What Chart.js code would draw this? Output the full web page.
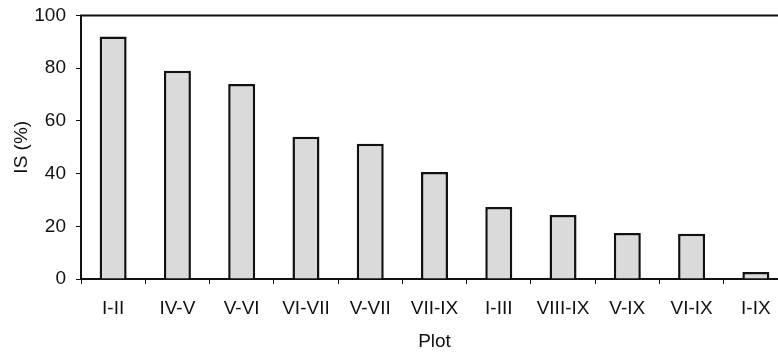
<!DOCTYPE html>
<html>
<head>
<meta charset="utf-8">
<script src="https://cdn.jsdelivr.net/npm/chart.js@4/dist/chart.umd.min.js"></script>
<style>
  html, body { margin: 0; padding: 0; background: #fff; overflow: hidden; }
  #wrap { width: 778px; height: 354px; overflow: hidden; }
  canvas { display: block; }
</style>
</head>
<body>
<div id="wrap"><canvas id="c" width="790" height="354"></canvas></div>
<script>
// Index of similarity between plot pairs
const plots = ['I-II', 'IV-V', 'V-VI', 'VI-VII', 'V-VII', 'VII-IX', 'I-III', 'VIII-IX', 'V-IX', 'VI-IX', 'I-IX'];
const isPercent = [92, 79, 74, 54, 51.3, 40.6, 27.3, 24.3, 17.5, 17.2, 2.7];
const yTicks = [0, 20, 40, 60, 80, 100];

const FONT = 'Liberation Sans, Arial, sans-serif';
const SIZE = 19;

// Thin frame line along the top of the plot area
const topFrame = {
  id: 'topFrame',
  afterDraw(chart) {
    const { ctx, chartArea } = chart;
    ctx.save();
    ctx.strokeStyle = '#111';
    ctx.lineWidth = 2;
    ctx.beginPath();
    ctx.moveTo(chartArea.left - 1, chartArea.top);
    ctx.lineTo(chartArea.right + 1, chartArea.top);
    ctx.stroke();
    ctx.restore();
  }
};

new Chart(document.getElementById('c'), {
  type: 'bar',
  data: {
    labels: plots,
    datasets: [{
      data: isPercent,
      backgroundColor: '#dadada',
      borderColor: '#111',
      borderWidth: 2.5,
      barPercentage: 0.42,
      categoryPercentage: 1
    }]
  },
  options: {
    responsive: false,
    animation: false,
    layout: { padding: { left: 0, right: 2, top: 15.5, bottom: 0 } },
    plugins: { legend: { display: false }, tooltip: { enabled: false } },
    scales: {
      x: {
        grid: { display: true, drawOnChartArea: false, drawTicks: true, tickLength: 5, color: '#111', lineWidth: 1 },
        border: { display: true, color: '#111', width: 2 },
        ticks: { color: '#111', font: { family: FONT, size: SIZE }, padding: 13, maxRotation: 0, autoSkip: false },
        title: { display: true, text: 'Plot', color: '#111', font: { family: FONT, size: SIZE }, padding: { top: 0, bottom: 1 } },
        afterFit(scale) { scale.height = 75; }
      },
      y: {
        min: 0,
        max: 100,
        afterBuildTicks(scale) { scale.ticks = yTicks.map(v => ({ value: v })); },
        grid: { display: true, drawOnChartArea: false, drawTicks: true, tickLength: 5, color: '#111', lineWidth: 1 },
        border: { display: true, color: '#111', width: 2 },
        ticks: { color: '#111', font: { family: FONT, size: SIZE }, padding: 10 },
        title: { display: true, text: 'IS (%)', color: '#111', font: { family: FONT, size: SIZE }, padding: { top: 10.5, bottom: 0 } },
        afterFit(scale) {
          scale.width = 81;
          scale.paddingTop = 0;
          scale.paddingBottom = 0;
        }
      }
    }
  },
  plugins: [topFrame]
});
</script>
</body>
</html>
